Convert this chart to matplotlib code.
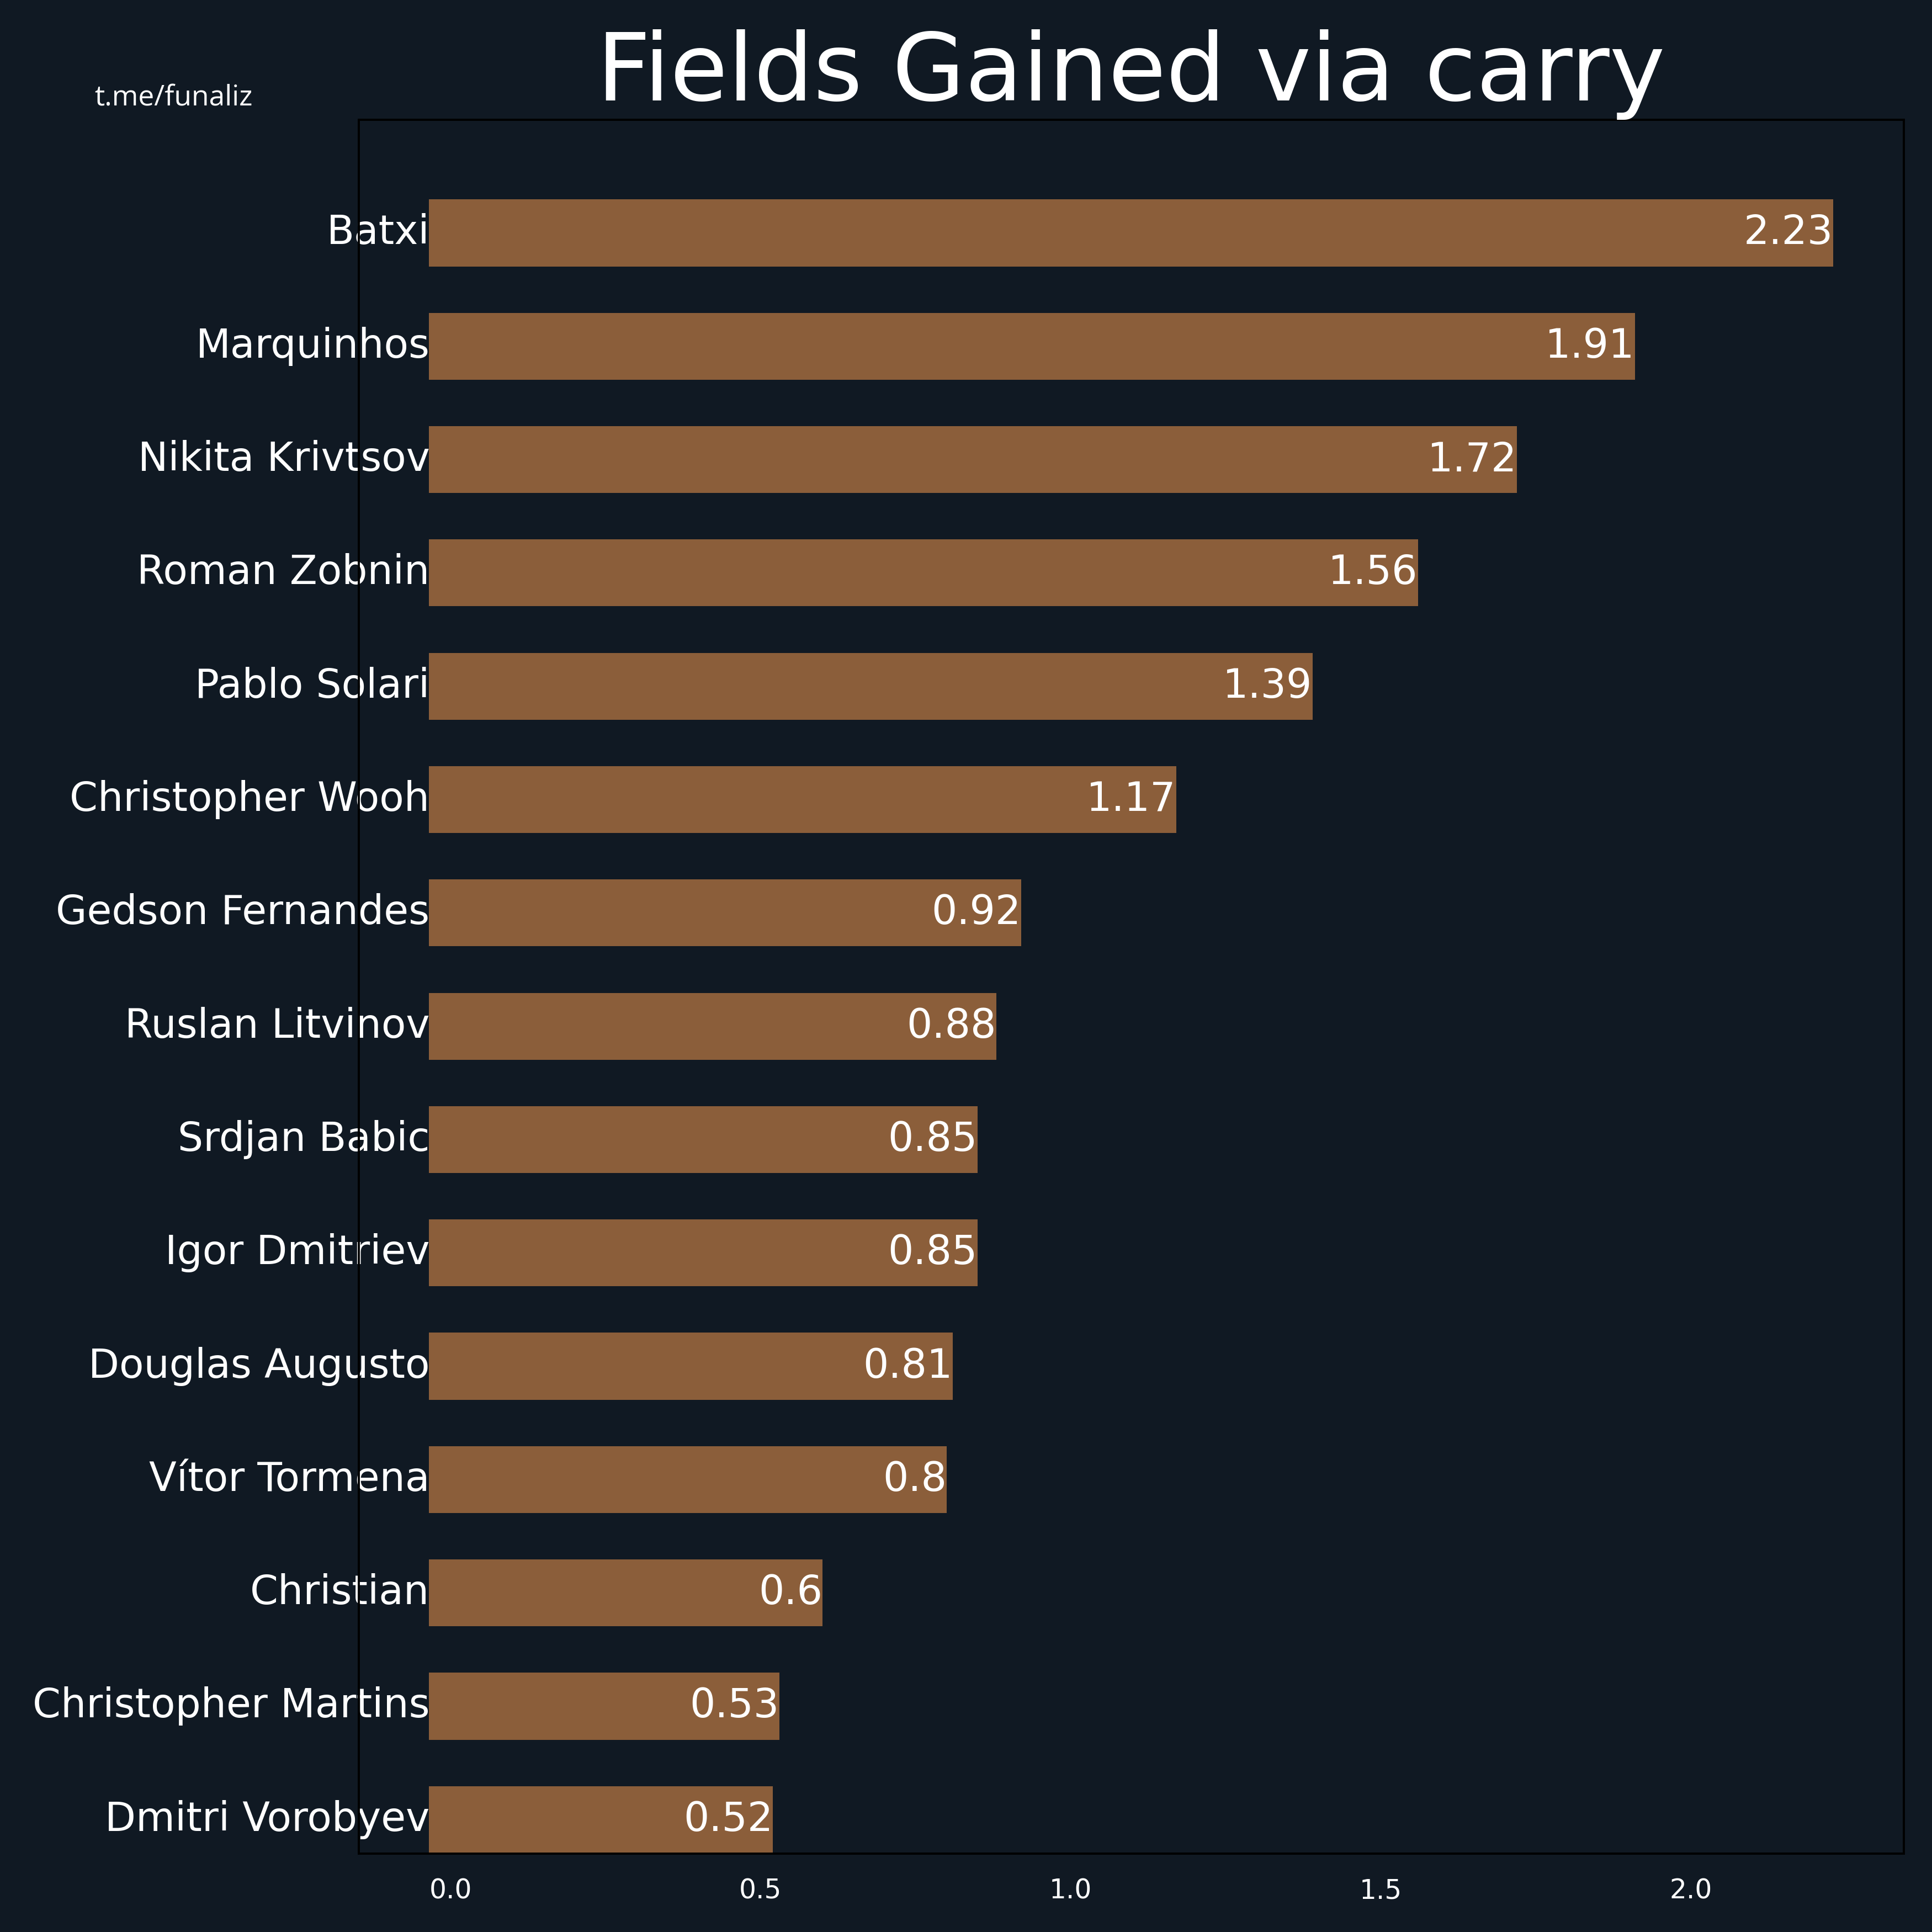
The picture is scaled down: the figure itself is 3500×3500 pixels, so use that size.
import matplotlib
matplotlib.use("Agg")
import matplotlib.pyplot as plt
import numpy as np

players = ["Batxi", "Marquinhos", "Nikita Krivtsov", "Roman Zobnin", "Pablo Solari",
           "Christopher Wooh", "Gedson Fernandes", "Ruslan Litvinov", "Srdjan Babic",
           "Igor Dmitriev", "Douglas Augusto", "Vítor Tormena", "Christian",
           "Christopher Martins", "Dmitri Vorobyev"]
values = [2.23, 1.91, 1.72, 1.56, 1.39, 1.17, 0.92, 0.88, 0.85, 0.85, 0.81, 0.8, 0.6, 0.53, 0.52]
value_labels = ["2.23", "1.91", "1.72", "1.56", "1.39", "1.17", "0.92", "0.88", "0.85",
                "0.85", "0.81", "0.8", "0.6", "0.53", "0.52"]
title = "Fields Gained via carry"
credit = "t.me/funaliz"

BG = "#101923"
BAR = "#8b5e3a"
LEFT = -0.035

fig = plt.figure(figsize=(10, 10), dpi=350, facecolor=BG)
ax = fig.add_axes([0.1856, 0.0406, 0.7997, 0.8975])
ax.set_facecolor(BG)

n = len(players)
ypos = np.arange(n)[::-1]
vals = np.array(values)
ax.barh(ypos, vals - LEFT, left=LEFT, height=0.59, color=BAR)

for y, v, lab in zip(ypos, vals, value_labels):
    ax.text(v, y, lab, ha="right", va="center", color="white", fontsize=15)

ax.set_yticks(ypos)
ax.set_yticklabels(players, fontsize=15, color="white")
for lbl in ax.get_yticklabels():
    lbl.set_verticalalignment("center")
ax.tick_params(axis="y", length=0, pad=-26.5)
ax.tick_params(axis="x", length=0, pad=9, labelsize=10, labelcolor="white")
ax.set_xticks([0.0, 0.5, 1.0, 1.5, 2.0])
span = vals.max() - LEFT
ax.set_xlim(LEFT - 0.05 * span, vals.max() + 0.05 * span)
ax.set_ylim(-0.3, 15)

for s in ax.spines.values():
    s.set_color("black")
    s.set_linewidth(0.8)

ax.set_title(title, fontsize=35, color="white")
fig.text(0.049, 0.9457, credit, fontsize=10.6, color="white",
         family=["Open Sans", "DejaVu Sans"], ha="left", va="baseline")

fig.savefig("out.png", dpi=350, facecolor=BG)
